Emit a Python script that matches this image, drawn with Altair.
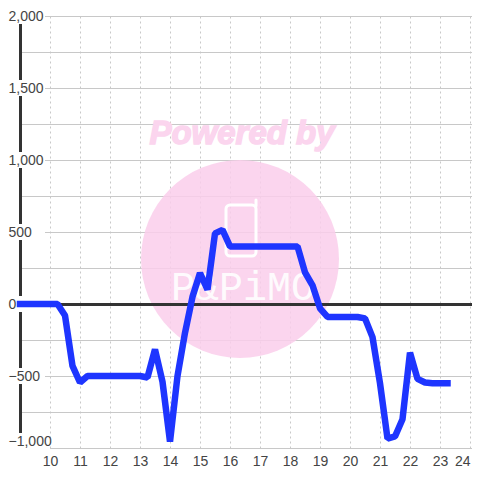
import altair as alt
import pandas as pd

hours = [9, 10.25, 10.5, 10.75, 11, 11.25, 13, 13.25, 13.5, 13.75, 14, 14.25, 14.5, 14.75, 15, 15.25,
         15.5, 15.75, 16, 18.25, 18.5, 18.75, 19, 19.25, 20.25, 20.5, 20.75, 21, 21.25, 21.5, 21.75,
         22, 22.25, 22.5, 22.75, 23.25]
values = [0, 0, -80, -430, -545, -500, -500, -510, -315, -540, -955, -500, -200, 50, 215, 100,
          490, 515, 400, 400, 220, 130, -30, -90, -90, -100, -230, -550, -935, -920, -800,
          -338, -520, -545, -550, -550]
y_labels = [2000, 1500, 1000, 500, 0, -500]
y_grid = [2000, 1750, 1500, 1250, 1000, 750, 500, 250, 0, -250, -500, -750, -1000]
x_ticks = list(range(10, 25))

W, H = 452, 432
X_DOM = [9, 9 + W / 30]
Y_DOM = [-1000, 2000]
x_scale = alt.Scale(domain=X_DOM, nice=False, zero=False)
y_scale = alt.Scale(domain=Y_DOM, nice=False, zero=False)

line_df = pd.DataFrame({"hour": hours, "value": values})
FONT = "Liberation Sans"
PINK = "#fbd5ee"

x_axis = alt.Axis(
    values=x_ticks, title=None, grid=True, gridColor="#c8c8c8", gridDash=[2, 3], gridWidth=1,
    domain=False, ticks=False, labelFontSize=14, labelColor="#444444", labelFont=FONT,
    labelPadding=6, format="d", labelFlush=False, labelOverlap=False,
    labelAlign=alt.expr("datum.value == 24 ? 'right' : 'center'"))
y_axis = alt.Axis(
    values=y_labels + [-1000], title=None, grid=False,
    domain=False, ticks=False, labelFontSize=14, labelColor="#444444", labelFont=FONT,
    labelPadding=12, labelAlign="left", zindex=1, labelOverlap=False, labelFlush=False,
    labelExpr="format(datum.value, ',')",
    labelBaseline=alt.expr("datum.value == -1000 ? 'bottom' : 'middle'"))

base_df = pd.DataFrame({"hour": [9], "value": [0]})

grid = alt.Chart(pd.DataFrame({"value": y_grid})).mark_rule(color="#c8c8c8", strokeWidth=1, yOffset=0.5).encode(
    y=alt.Y("value:Q", scale=y_scale, axis=y_axis))
circle = alt.Chart(base_df).mark_point(filled=True, color="#faceeb", opacity=0.85, size=39204).encode(
    x=alt.value(220), y=alt.value(243))
powered = alt.Chart(pd.DataFrame({"t": ["Powered by"]})).mark_text(
    font=FONT, fontSize=33, fontWeight="bold", fontStyle="italic", color=PINK,
    stroke=PINK, strokeWidth=1.5).encode(
    x=alt.value(222), y=alt.value(118), text="t:N")
brand = alt.Chart(pd.DataFrame({"t": ["P&PiMO"]})).mark_text(
    font="Liberation Mono", fontSize=40, color="#ffffff", opacity=0.9).encode(
    x=alt.value(223), y=alt.value(272), text="t:N")
phone = alt.Chart(base_df).mark_rect(fill=None, stroke="#ffffff", strokeWidth=3, cornerRadius=4).encode(
    x=alt.value(206), x2=alt.value(236), y=alt.value(189), y2=alt.value(240))
antenna = alt.Chart(base_df).mark_rule(color="#ffffff", strokeWidth=3, strokeCap="round").encode(
    x=alt.value(236), y=alt.value(184), y2=alt.value(190))

zero_rule = alt.Chart(base_df).mark_rule(color="#333333", strokeWidth=3, yOffset=0.5).encode(
    y=alt.Y(datum=0, scale=y_scale, axis=y_axis))
y_rule = alt.Chart(base_df).mark_rule(color="#333333", strokeWidth=3, xOffset=0.5).encode(
    x=alt.X(datum=9, scale=x_scale, axis=x_axis))

boxes = alt.Chart(pd.DataFrame({"value": y_labels})).mark_rule(color="#ffffff", strokeWidth=16).encode(
    x=alt.value(-15), x2=alt.value(25), y=alt.Y("value:Q", scale=y_scale, axis=y_axis))
box_low = alt.Chart(pd.DataFrame({"value": [-1000]})).mark_rule(color="#ffffff", strokeWidth=16, yOffset=-7).encode(
    x=alt.value(-15), x2=alt.value(30), y=alt.Y("value:Q", scale=y_scale, axis=y_axis))

line = alt.Chart(line_df).mark_line(color="#1e35ff", strokeWidth=6.5, strokeCap="square",
                                    strokeJoin="bevel", clip=False).encode(
    x=alt.X("hour:Q", scale=x_scale, axis=x_axis), y=alt.Y("value:Q", scale=y_scale, axis=y_axis))

chart = alt.layer(grid, circle, powered, brand, phone, antenna, y_rule, boxes, box_low, zero_rule, line).properties(
    width=W, height=H, background="#ffffff",
    padding={"left": 12, "top": 8, "right": 0, "bottom": 24},
    autosize=alt.AutoSizeParams(type="none")
).configure_view(stroke=None)

chart.save("out.html", embed_options={"renderer": "svg", "actions": False})
